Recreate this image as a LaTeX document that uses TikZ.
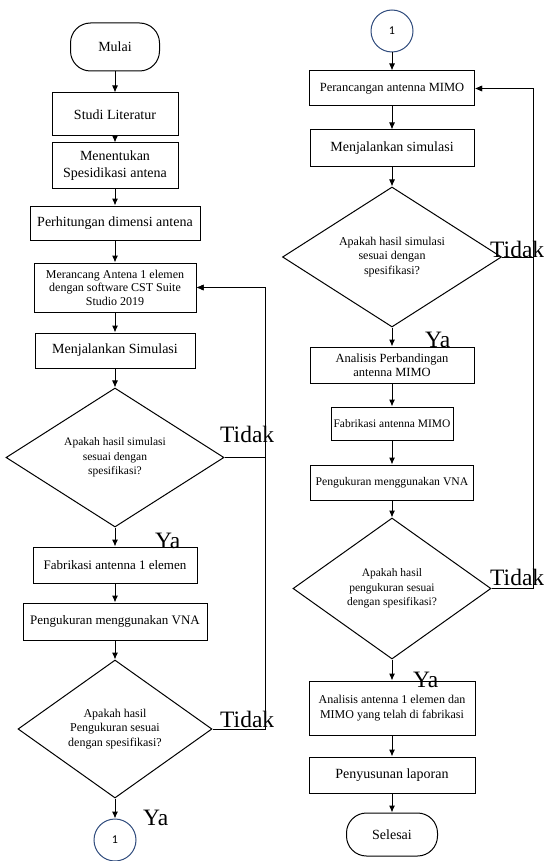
\documentclass[tikz,border=0pt]{standalone}
\usepackage{fontspec}
\setmainfont{Liberation Serif}
\newfontfamily\carlito{Carlito}
\usepackage{tikz}
\usetikzlibrary{arrows.meta,shapes.geometric}
\definecolor{konektor}{HTML}{2F4B7C}

\begin{document}
\begin{tikzpicture}[x=1pt,y=-1pt]
	\tikzstyle{box}=[rectangle,draw=black,line width=1pt,align=center,inner sep=2pt,font=\fontsize{14}{17}\selectfont]
	\tikzstyle{terminal}=[box,rounded corners=20pt]
	\tikzstyle{decision}=[diamond,aspect=1.5,draw=black,line width=1pt,align=center,inner sep=0pt,font=\fontsize{11.5}{14.5}\selectfont]
	\tikzstyle{connector}=[circle,draw=konektor,line width=1pt,minimum size=42pt,inner sep=0pt,font=\carlito\fontsize{12}{14}\selectfont]
	\tikzstyle{jawab}=[anchor=base west,inner sep=0pt,font=\fontsize{23.5}{24}\selectfont]
	\tikzstyle{flow}=[line width=1pt,-{Latex[length=7pt,width=6pt]}]
	\useasboundingbox (0,0) rectangle (547,861);
	\node[terminal,minimum width=89pt,minimum height=48pt] (1) at (115,47) {Mulai};
	\node[box,minimum width=126pt,minimum height=43pt] (2) at (115,114.5) {Studi Literatur};
	\node[box,minimum width=126pt,minimum height=45pt] (3) at (115,165.5) {Menentukan\\Spesidikasi antena};
	\node[box,minimum width=170pt,minimum height=34pt] (4) at (115,223) {Perhitungan dimensi antena};
	\node[box,minimum width=162pt,minimum height=49pt,font=\fontsize{12}{13.5}\selectfont] (5) at (115,287.5) {Merancang Antena 1 elemen\\dengan software CST Suite\\Studio 2019};
	\node[box,minimum width=160pt,minimum height=35pt] (6) at (115,350.5) {Menjalankan Simulasi};
	\node[decision,minimum width=218pt,minimum height=139pt] (7) at (115,457.5) {Apakah hasil simulasi\\sesuai dengan\\spesifikasi?};
	\node[box,minimum width=164pt,minimum height=36pt,font=\fontsize{13}{15}\selectfont] (8) at (115,565) {Fabrikasi antenna 1 elemen};
	\node[box,minimum width=184pt,minimum height=37pt,font=\fontsize{13}{15}\selectfont] (9) at (115,621.5) {Pengukuran menggunakan VNA};
	\node[decision,minimum width=194pt,minimum height=138pt,font=\fontsize{12}{14.5}\selectfont] (10) at (115,729) {Apakah hasil\\Pengukuran sesuai\\dengan spesifikasi?};
	\node[connector] (11) at (115,840) {1};
	\node[connector] (12) at (392,31) {1};
	\node[box,minimum width=165pt,minimum height=35pt,font=\fontsize{12.5}{14}\selectfont] (13) at (392,88.5) {Perancangan antenna MIMO};
	\node[box,minimum width=164pt,minimum height=37pt] (14) at (392,148.5) {Menjalankan simulasi};
	\node[decision,minimum width=219pt,minimum height=140pt,font=\fontsize{12}{14.5}\selectfont] (15) at (392,257) {Apakah hasil simulasi\\sesuai dengan\\spesifikasi?};
	\node[box,minimum width=164pt,minimum height=36pt,font=\fontsize{12.5}{14}\selectfont] (16) at (392,365) {Analisis Perbandingan\\antenna MIMO};
	\node[box,minimum width=122pt,minimum height=33pt,font=\fontsize{11.5}{14}\selectfont] (17) at (392,423.5) {Fabrikasi antenna MIMO};
	\node[box,minimum width=163pt,minimum height=35pt,font=\fontsize{11.7}{14}\selectfont] (18) at (392,482.5) {Pengukuran menggunakan VNA};
	\node[decision,minimum width=198pt,minimum height=141pt] (19) at (392,588.5) {Apakah hasil\\pengukuran sesuai\\dengan spesifikasi?};
	\node[box,minimum width=166pt,minimum height=54pt,font=\fontsize{12}{14.5}\selectfont] (20) at (392,708) {Analisis antenna 1 elemen dan\\MIMO yang telah di fabrikasi};
	\node[box,minimum width=166pt,minimum height=36pt] (21) at (392,775) {Penyusunan laporan};
	\node[terminal,minimum width=91pt,minimum height=43pt] (22) at (392,834.5) {Selesai};
	\node[jawab] (t1) at (220,442) {Tidak};
	\node[jawab] (t2) at (220,727) {Tidak};
	\node[jawab] (t3) at (490,257) {Tidak};
	\node[jawab] (t4) at (490,585) {Tidak};
	\node[jawab] (y1) at (155,548) {Ya};
	\node[jawab] (y2) at (143,825) {Ya};
	\node[jawab] (y3) at (425,347) {Ya};
	\node[jawab] (y4) at (413,687) {Ya};
	\coordinate (k1) at (265,0);
	\coordinate (k2) at (533,0);
	\draw[flow] (1) -- (2);
	\draw[flow] (2) -- (3);
	\draw[flow] (3) -- (4);
	\draw[flow] (4) -- (5);
	\draw[flow] (5) -- (6);
	\draw[flow] (6) -- (7);
	\draw[flow] (7) -- (8);
	\draw[flow] (8) -- (9);
	\draw[flow] (9) -- (10);
	\draw[flow] (10) -- (11);
	\draw[flow] (7.east) -- (7.east -| k1) |- (5.east);
	\draw[flow] (10.east) -- (10.east -| k1) |- (5.east);
	\draw[flow] (12) -- (13);
	\draw[flow] (13) -- (14);
	\draw[flow] (14) -- (15);
	\draw[flow] (15) -- (16);
	\draw[flow] (16) -- (17);
	\draw[flow] (17) -- (18);
	\draw[flow] (18) -- (19);
	\draw[flow] (19) -- (20);
	\draw[flow] (20) -- (21);
	\draw[flow] (21) -- (22);
	\draw[flow] (15.east) -- (15.east -| k2) |- (13.east);
	\draw[flow] (19.east) -- (19.east -| k2) |- (13.east);
\end{tikzpicture}
\end{document}
